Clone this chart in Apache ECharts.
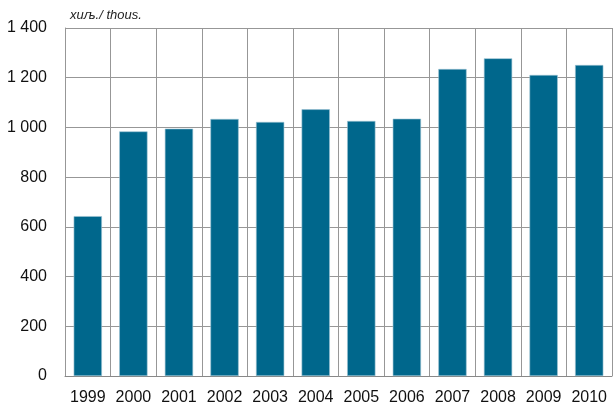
<!DOCTYPE html>
<html><head><meta charset="utf-8">
<script src="https://cdn.jsdelivr.net/npm/echarts@6/dist/echarts.min.js"></script>
<style>html,body{margin:0;padding:0;background:#fff}#c{width:615px;height:410px}</style>
</head><body><div id="c"></div>
<script>
var categories = ['1999','2000','2001','2002','2003','2004','2005','2006','2007','2008','2009','2010'];
var values = [643, 984, 995, 1034, 1022, 1073, 1026, 1035, 1235, 1278, 1211, 1251];
var yTicks = [0, 200, 400, 600, 800, 1000, 1200, 1400];
var unitLabel = 'хиљ./ thous.';

var FONT = "'Liberation Sans', Arial, sans-serif";
var chart = echarts.init(document.getElementById('c'), null, {renderer: 'canvas'});
chart.setOption({
  animation: false,
  backgroundColor: '#fff',
  grid: {left: 65, right: 3, top: 28, bottom: 34, containLabel: false},
  graphic: [{
    type: 'text', left: 70, top: 9,
    style: {text: unitLabel, font: 'italic 13px ' + FONT, fill: '#222'}
  }],
  xAxis: {
    type: 'category', data: categories, boundaryGap: true,
    axisLine: {show: true, lineStyle: {color: '#888', width: 1}},
    axisTick: {show: false},
    axisLabel: {color: '#111', fontFamily: FONT, fontSize: 16, margin: 14, interval: 0},
    splitLine: {show: true, interval: 0, lineStyle: {color: '#979797', width: 1}}
  },
  yAxis: {
    type: 'value', min: yTicks[0], max: yTicks[yTicks.length - 1], interval: 200,
    axisLine: {show: true, lineStyle: {color: '#979797', width: 1}},
    axisTick: {show: false},
    axisLabel: {color: '#111', fontFamily: FONT, fontSize: 16, margin: 18,
      formatter: function (v) { return String(v).replace(/\B(?=(\d{3})+(?!\d))/g, ' '); }},
    splitLine: {show: true, lineStyle: {color: '#979797', width: 1}}
  },
  series: [{
    type: 'bar', data: values, barCategoryGap: '38%',
    itemStyle: {color: '#00678C', borderColor: '#9cc3d3', borderWidth: 0.6}
  }]
});
</script></body></html>
